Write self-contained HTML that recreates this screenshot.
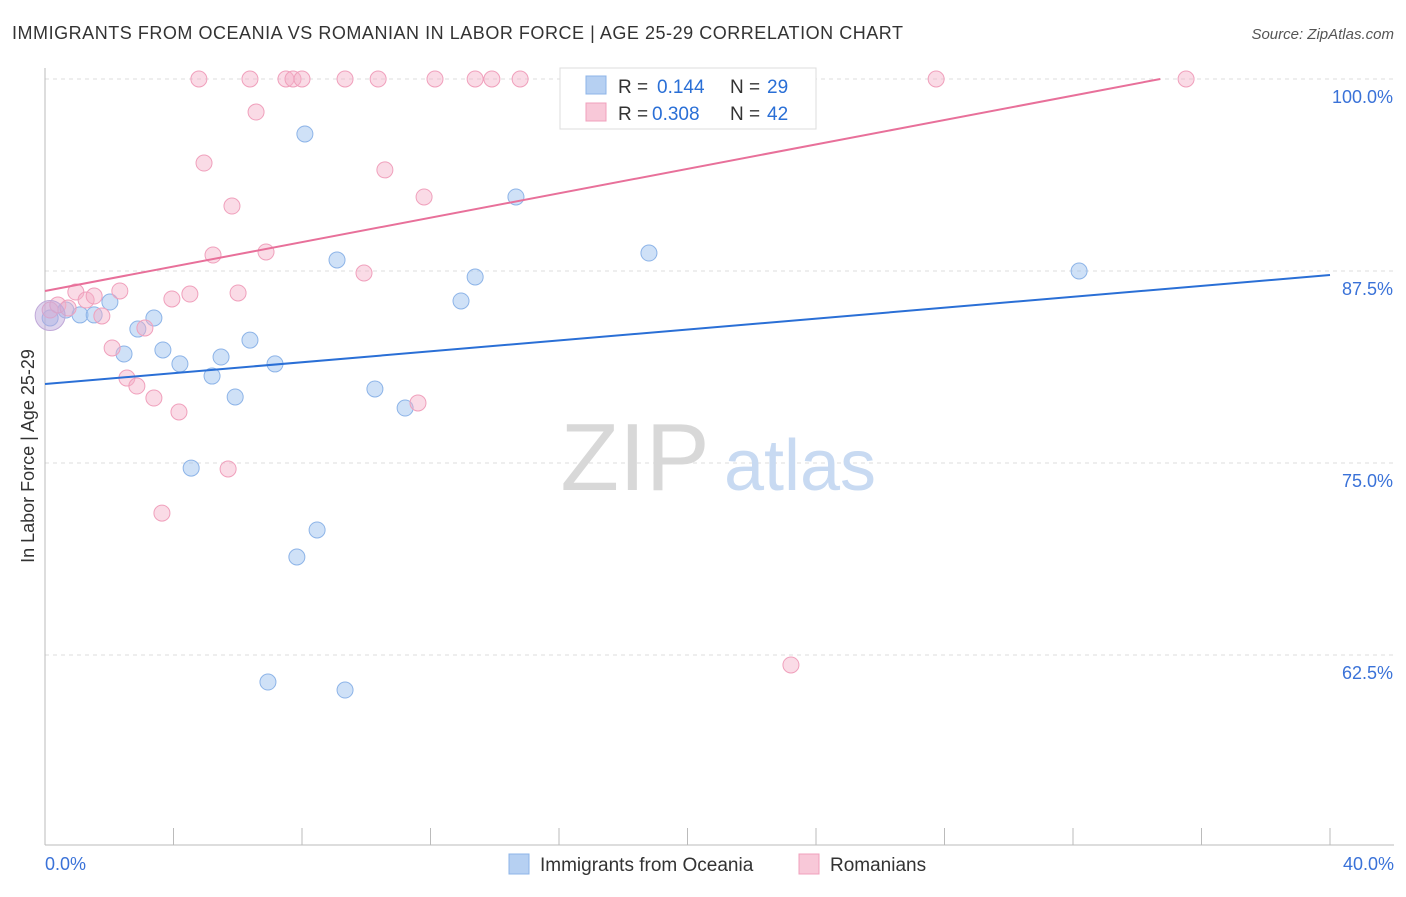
<!DOCTYPE html>
<html><head><meta charset="utf-8"><style>
body{margin:0;background:#fff;font-family:"Liberation Sans",sans-serif;}
svg text{font-family:"Liberation Sans",sans-serif;}
</style></head><body>
<svg id="chart" width="1406" height="892">
<text x="12" y="39" font-size="18" fill="#333" textLength="891">IMMIGRANTS FROM OCEANIA VS ROMANIAN IN LABOR FORCE | AGE 25-29 CORRELATION CHART</text>
<text x="1394" y="39" font-size="15" fill="#555" text-anchor="end" font-style="italic">Source: ZipAtlas.com</text>
<g id="grid"></g>
<g><text x="635" y="490" font-size="96" fill="#d8d8d8" font-family="Liberation Serif" text-anchor="middle">ZIP</text><text x="800" y="490" font-size="72" fill="#c8daf2" text-anchor="middle">atlas</text></g>
<line x1="45" y1="68" x2="45" y2="845" stroke="#bbb"/>
<line x1="45" y1="845" x2="1394" y2="845" stroke="#bbb"/>
<text transform="translate(34,456) rotate(-90)" font-size="18" fill="#333" text-anchor="middle">In Labor Force | Age 25-29</text>
<text x="45" y="870" font-size="18" fill="#3a72d8">0.0%</text>
<text x="1394" y="870" font-size="18" fill="#3a72d8" text-anchor="end">40.0%</text>
<g id="marks"></g>
<g>
<rect x="560" y="68" width="256" height="61" fill="#fff" stroke="#ddd"/>
<rect x="586" y="76" width="20" height="18" fill="#b6d0f2" stroke="#8db4e8"/>
<text x="618" y="93" font-size="19" fill="#333">R =</text>
<text x="657" y="93" font-size="19" fill="#2a6fd6">0.144</text>
<text x="730" y="93" font-size="19" fill="#333">N =</text>
<text x="767" y="93" font-size="19" fill="#2a6fd6">29</text>
<rect x="586" y="103" width="20" height="18" fill="#f8c8d8" stroke="#f0a0bc"/>
<text x="618" y="120" font-size="19" fill="#333">R =</text>
<text x="652" y="120" font-size="19" fill="#2a6fd6">0.308</text>
<text x="730" y="120" font-size="19" fill="#333">N =</text>
<text x="767" y="120" font-size="19" fill="#2a6fd6">42</text>
</g>
<g>
<rect x="509" y="854" width="20" height="20" fill="#b6d0f2" stroke="#8db4e8"/>
<text x="540" y="871" font-size="19" fill="#333">Immigrants from Oceania</text>
<rect x="799" y="854" width="20" height="20" fill="#f8c8d8" stroke="#f0a0bc"/>
<text x="830" y="871" font-size="19" fill="#333">Romanians</text>
</g>
</svg>
<script>
const yTicks=[100,87.5,75,62.5];
const yTickLabels=["100.0%","87.5%","75.0%","62.5%"];
const xTicks=[0,4,8,12,16,20,24,28,32,36,40];
const blueX=[0.16,0.65,1.09,1.53,2.02,2.46,2.89,3.39,3.67,4.2,4.55,5.2,5.48,5.92,6.38,6.94,7.16,7.84,8.09,8.47,9.09,9.34,10.27,11.21,12.95,13.39,14.66,18.8,32.19];
const blueY=[84.44,84.96,84.64,84.64,85.48,82.1,83.72,84.44,82.36,81.45,74.67,80.66,81.9,79.3,83.0,60.74,81.45,68.88,96.42,70.64,88.22,60.22,79.82,78.58,85.55,87.11,92.32,88.67,87.5];
const pinkX=[0.16,0.4,0.72,0.96,1.28,1.53,1.77,2.09,2.33,2.55,2.86,3.11,3.39,3.64,3.95,4.17,4.51,4.79,4.95,5.23,5.7,5.82,6.01,6.38,6.57,6.88,7.5,7.72,8.0,9.34,9.93,10.37,10.58,11.61,11.8,12.14,13.39,13.91,14.79,23.22,27.74,35.52];
const pinkY=[84.96,85.29,85.09,86.13,85.61,85.87,84.57,82.49,86.2,80.53,80.01,83.79,79.23,71.74,85.68,78.32,86.0,100,94.53,88.54,74.61,91.73,86.07,100,97.85,88.74,100,100,100,100,87.37,100,94.08,78.91,92.32,100,100,100,100,61.85,100,100];
const blueTrend=[80.14,87.24];
const pinkTrend=[86.2,102.1];
const sx=v=>45+v*32.125;
const sy=v=>79+(100-v)*15.36;
const NS="http://www.w3.org/2000/svg";
const grid=document.getElementById('grid'),marks=document.getElementById('marks');
function mk(t,a,p){const e=document.createElementNS(NS,t);for(const k in a)e.setAttribute(k,a[k]);p.appendChild(e);return e;}
yTicks.forEach((t,i)=>{
 const l=mk('line',{x1:45,x2:1394,y1:sy(t),y2:sy(t),stroke:'#ddd','stroke-dasharray':'4,4'},grid);
 
 
 const tx=mk('text',{x:1393,y:sy(t)+24,'font-size':18,fill:'#3a72d8','text-anchor':'end'},grid);
 tx.textContent=yTickLabels[i];
 
 
});
xTicks.forEach(t=>{
 const l=mk('line',{x1:sx(t),x2:sx(t),y1:828,y2:845,stroke:'#bbb'},grid);
 
 
});
function pts(X,Y,fill,stroke,name){
 X.forEach((x,i)=>{
  const c=mk('circle',{cx:sx(x),cy:sy(Y[i]),r:8,fill:fill,stroke:stroke,'stroke-width':1},marks);
  
  
 });
}
pts(blueX,blueY,'rgba(160,196,240,0.5)','#8db4e8','oceania-point');
pts(pinkX,pinkY,'rgba(245,175,200,0.45)','#f0a0bc','romanian-point');
const big1=mk('circle',{cx:sx(0.16),cy:sy(84.6),r:15,fill:'rgba(190,170,220,0.5)',stroke:'#c0a8d8'},marks);


const pinkEnd=(100-pinkTrend[0])/((pinkTrend[1]-pinkTrend[0])/40);
const bl=mk('line',{x1:sx(0),y1:sy(blueTrend[0]),x2:sx(40),y2:sy(blueTrend[1]),stroke:'#2a6fd6','stroke-width':2},marks);


const pl=mk('line',{x1:sx(0),y1:sy(pinkTrend[0]),x2:sx(pinkEnd),y2:sy(100),stroke:'#e8709a','stroke-width':2},marks);


</script>
</body></html>
